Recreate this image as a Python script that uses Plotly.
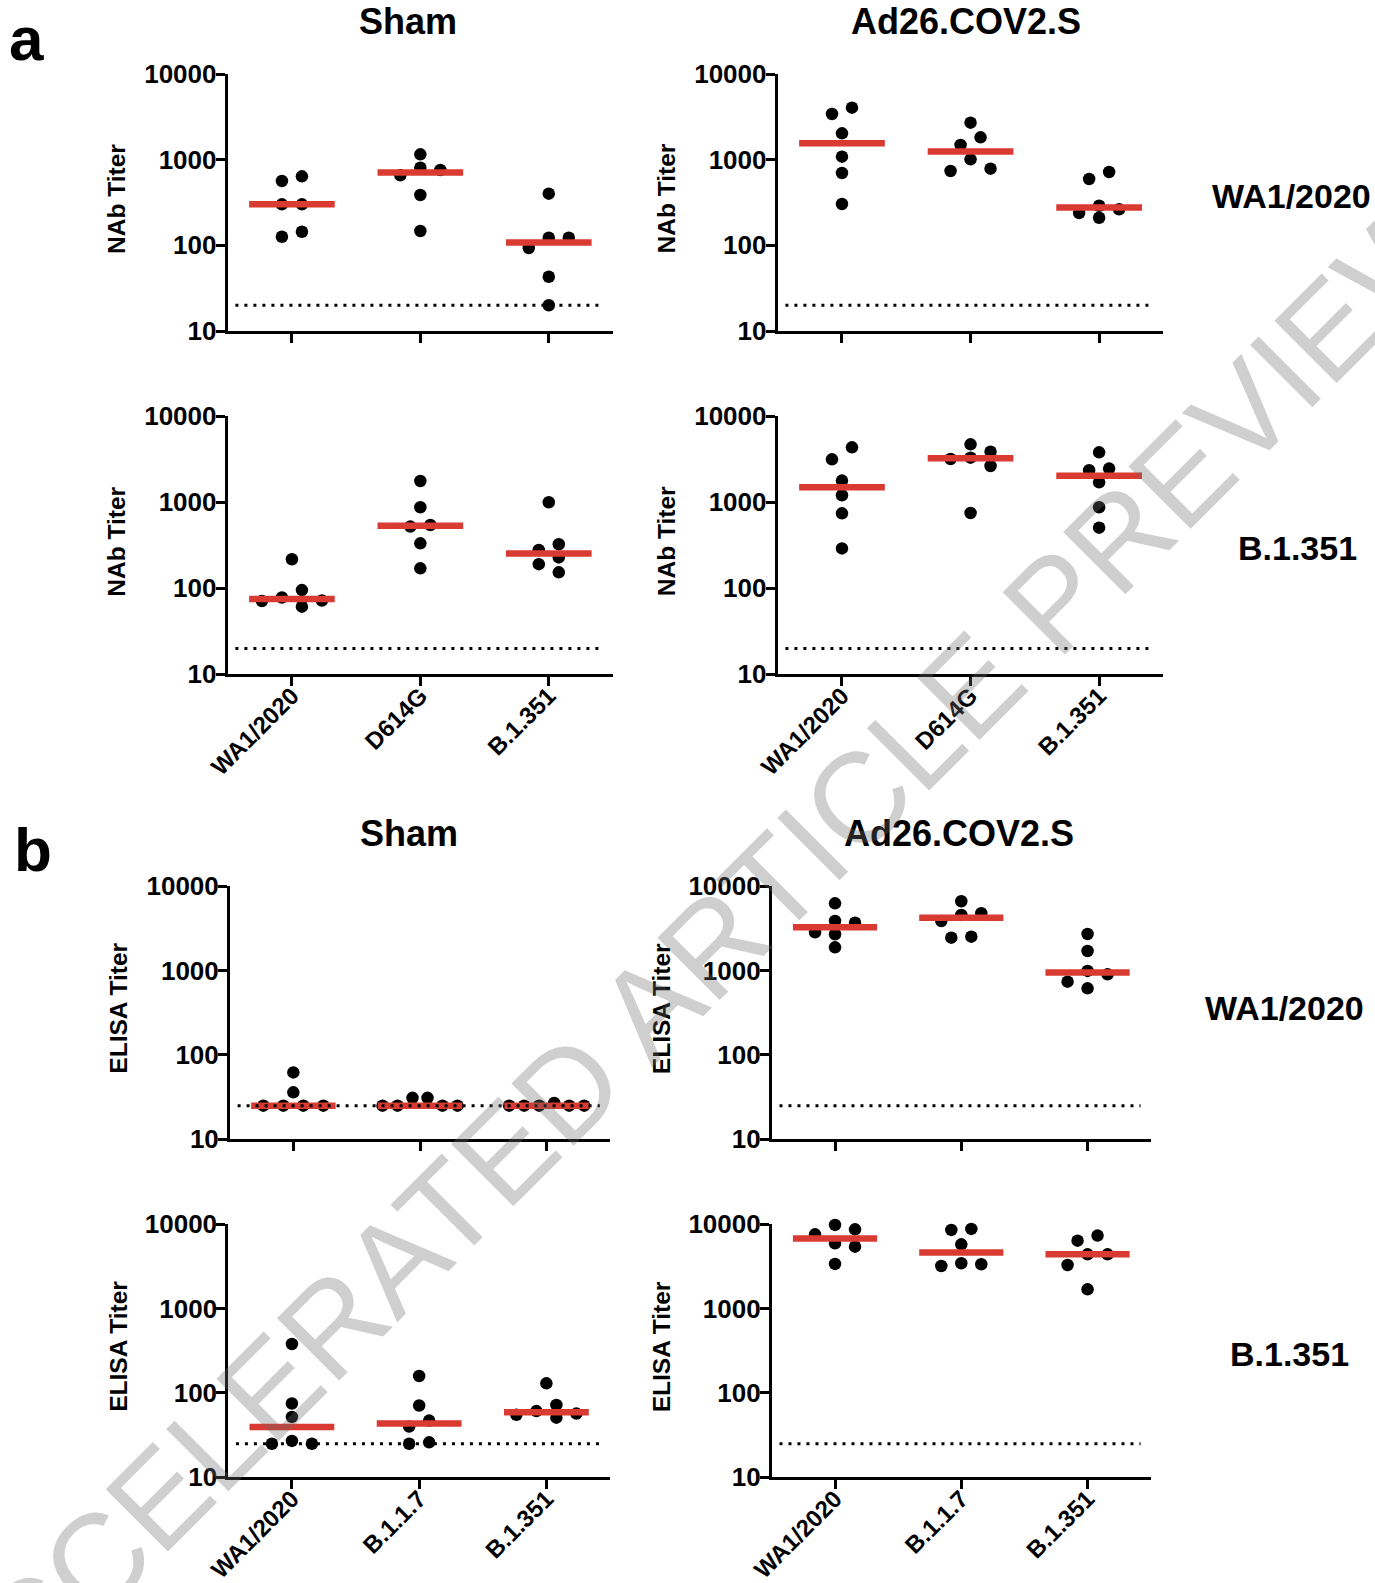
import numpy as np
import plotly.graph_objects as go

FIG_W, FIG_H = 1375, 1583

# ---------------- data ----------------
nab_strains = ["WA1/2020", "D614G", "B.1.351"]
elisa_strains = ["WA1/2020", "B.1.1.7", "B.1.351"]
y_tick_values = [10, 100, 1000, 10000]
y_tick_labels = ["10", "100", "1000", "10000"]

# a: pseudovirus NAb titers; each list of lists follows nab_strains
nab_sham_wa1 = [[639, 564, 301, 301, 144, 126],
                [1154, 807, 757, 656, 387, 147],
                [401, 123, 123, 93, 43, 20]]
nab_ad26_wa1 = [[4045, 3412, 2030, 1084, 698, 304],
                [2704, 1824, 1484, 1009, 785, 738],
                [718, 595, 290, 263, 238, 210]]
nab_sham_b1351 = [[217, 95, 78, 72, 71, 61],
                  [1760, 871, 542, 519, 332, 170],
                  [995, 324, 278, 228, 190, 153]]
nab_ad26_b1351 = [[4327, 3140, 1776, 1200, 741, 290],
                  [4692, 3856, 3283, 3170, 2628, 748],
                  [3786, 2448, 2341, 1698, 871, 505]]

# b: ELISA titers; each list of lists follows elisa_strains
elisa_sham_wa1 = [[62, 36, 25, 25, 25, 25],
                  [31, 31, 25, 25, 25, 25],
                  [27, 25, 25, 25, 25, 25]]
elisa_ad26_wa1 = [[6237, 3851, 3683, 2832, 2680, 1879],
                  [6590, 4753, 4542, 3851, 2512, 2446],
                  [2703, 1700, 986, 900, 736, 614]]
elisa_sham_b1351 = [[381, 75, 52, 27, 25, 25],
                    [159, 71, 47, 40, 26, 25],
                    [130, 72, 61, 57, 55, 51]]
elisa_ad26_b1351 = [[9827, 8724, 7609, 5953, 5433, 3387],
                    [8810, 8570, 5790, 3451, 3357, 3206],
                    [7341, 6400, 4406, 4406, 3294, 1694]]

nab_lod = 20
elisa_lod = 25

# ---------------- styling ----------------
FONT = "Liberation Sans, Arial, Helvetica, sans-serif"
RED = "#D93A32"
DOT_SIZE = 12.5


def swarm_offsets(values, decade_px, diam=12.0, step=20.0, max_span=75.0):
    """Prism-like dot-plot spreading (pixel offsets) computed from the values."""
    vals = np.asarray(values, dtype=float)
    ypx = np.log10(vals) * decade_px
    order = sorted(range(len(vals)), key=lambda k: -vals[k])
    bins, cur = [], [order[0]]
    for a, b in zip(order[:-1], order[1:]):
        if ypx[a] - ypx[b] < diam:
            cur.append(b)
        else:
            bins.append(cur)
            cur = [b]
    bins.append(cur)
    offs = np.zeros(len(vals))
    for group in bins:
        for m in range(1, len(group) + 1):
            s = min(step, max_span / (m - 1)) if m > 1 else 0.0
            cols = [(k - (m - 1) / 2) * s for k in range(m)]
            cols.sort(key=lambda c: (abs(c), -c))
            placed = []
            failed = False
            for k in group:
                for c in cols:
                    if all(np.hypot(c - pc, ypx[k] - py) >= diam for pc, py in placed):
                        placed.append((c, ypx[k]))
                        offs[k] = c
                        break
                else:
                    failed = True
                    break
            if not failed:
                break
    return offs


# panel boxes in pixels: (left, right, top, bottom)
panels = [
    dict(data=nab_sham_wa1, cats=nab_strains, lod=nab_lod, box=(227.7, 613, 74, 331),
         ytitle="NAb Titer", tx=116.5, labels=False),
    dict(data=nab_ad26_wa1, cats=nab_strains, lod=nab_lod, box=(777.7, 1163.4, 74, 331),
         ytitle="NAb Titer", tx=666, labels=False),
    dict(data=nab_sham_b1351, cats=nab_strains, lod=nab_lod, box=(227.7, 613, 416, 674.3),
         ytitle="NAb Titer", tx=116.5, labels=True),
    dict(data=nab_ad26_b1351, cats=nab_strains, lod=nab_lod, box=(777.7, 1163.4, 416, 674.3),
         ytitle="NAb Titer", tx=666, labels=True),
    dict(data=elisa_sham_wa1, cats=elisa_strains, lod=elisa_lod, box=(230, 610, 886, 1139.3),
         ytitle="ELISA Titer", tx=119, labels=False),
    dict(data=elisa_ad26_wa1, cats=elisa_strains, lod=elisa_lod, box=(771.9, 1150.7, 886, 1139.3),
         ytitle="ELISA Titer", tx=661.5, labels=False),
    dict(data=elisa_sham_b1351, cats=elisa_strains, lod=elisa_lod, box=(228.3, 610, 1224.3, 1477.3),
         ytitle="ELISA Titer", tx=119, labels=True),
    dict(data=elisa_ad26_b1351, cats=elisa_strains, lod=elisa_lod, box=(771.9, 1150.7, 1224.3, 1477.3),
         ytitle="ELISA Titer", tx=661.5, labels=True),
]

fig = go.Figure()
layout_axes = {}
annotations = []

for i, p in enumerate(panels, start=1):
    xa = "x" if i == 1 else f"x{i}"
    ya = "y" if i == 1 else f"y{i}"
    l, r, t, b = p["box"]
    unit_px = (r - l) / 3.0
    decade_px = (b - t) / 3.0

    # dots
    for ci, vals in enumerate(p["data"]):
        offs = swarm_offsets(vals, decade_px) / unit_px
        fig.add_trace(go.Scatter(
            x=ci + offs, y=vals, mode="markers",
            marker=dict(size=DOT_SIZE, color="black", line=dict(width=0)),
            xaxis=xa, yaxis=ya, cliponaxis=False, showlegend=False, hoverinfo="skip"))
    # median bars
    for ci, vals in enumerate(p["data"]):
        med = float(np.median(vals))
        fig.add_trace(go.Scatter(
            x=[ci - 1 / 3, ci + 1 / 3], y=[med, med], mode="lines",
            line=dict(color=RED, width=6.5),
            xaxis=xa, yaxis=ya, cliponaxis=False, showlegend=False, hoverinfo="skip"))
    # limit of detection
    fig.add_trace(go.Scatter(
        x=[-0.44, 2.42], y=[p["lod"], p["lod"]], mode="lines",
        line=dict(color="black", width=3, dash="3px,6px"),
        xaxis=xa, yaxis=ya, cliponaxis=False, showlegend=False, hoverinfo="skip"))

    ytickfont = dict(family=FONT, size=26, color="black", weight="bold")
    xtickfont = dict(family=FONT, size=24, color="black", weight="bold")
    layout_axes["xaxis" if i == 1 else f"xaxis{i}"] = dict(
        domain=[l / FIG_W, r / FIG_W], anchor=ya, range=[-0.5, 2.5],
        tickmode="array", tickvals=[0, 1, 2], ticktext=p["cats"],
        showticklabels=p["labels"], tickangle=-45, tickfont=xtickfont,
        ticklabelstandoff=-14,
        ticks="outside", ticklen=9, tickwidth=3, tickcolor="black",
        showline=True, linewidth=3, linecolor="black", automargin=False,
        showgrid=False, zeroline=False, fixedrange=True)
    layout_axes["yaxis" if i == 1 else f"yaxis{i}"] = dict(
        domain=[1 - b / FIG_H, 1 - t / FIG_H], anchor=xa, type="log", range=[1, 4],
        tickmode="array", tickvals=y_tick_values, ticktext=y_tick_labels,
        tickfont=ytickfont, ticklabelstandoff=-6,
        ticks="outside", ticklen=9, tickwidth=3, tickcolor="black",
        showline=True, linewidth=3, linecolor="black", automargin=False,
        showgrid=False, zeroline=False, fixedrange=True)

    annotations.append(dict(
        text=p["ytitle"], x=p["tx"] / FIG_W, y=1 - ((t + b) / 2 - 4) / FIG_H,
        xref="paper", yref="paper", xanchor="center", yanchor="middle",
        textangle=-90, showarrow=False,
        font=dict(family=FONT, size=24.5, color="black", weight="bold")))


def text_ann(text, x, y, size, weight="bold"):
    return dict(text=text, x=x / FIG_W, y=1 - y / FIG_H, xref="paper", yref="paper",
                xanchor="center", yanchor="middle", showarrow=False,
                font=dict(family=FONT, size=size, color="black", weight=weight))


annotations += [
    text_ann("a", 26, 38, 62),
    text_ann("b", 33, 849, 62),
    text_ann("Sham", 408, 21, 36),
    text_ann("Ad26.COV2.S", 966, 21, 36),
    text_ann("Sham", 409, 833, 36),
    text_ann("Ad26.COV2.S", 959, 833, 36),
    text_ann("WA1/2020", 1291, 196, 34),
    text_ann("B.1.351", 1297, 548, 34),
    text_ann("WA1/2020", 1284, 1008, 34),
    text_ann("B.1.351", 1289, 1354, 34),
]

# watermark
annotations.append(dict(
    text="ACCELERATED ARTICLE PREVIEW", x=690 / FIG_W, y=1 - 966 / FIG_H,
    xref="paper", yref="paper", xanchor="center", yanchor="middle",
    textangle=-45, showarrow=False,
    font=dict(family=FONT, size=128, color="rgba(110,110,110,0.33)")))

fig.update_layout(
    width=FIG_W, height=FIG_H,
    margin=dict(l=0, r=0, t=0, b=0, pad=0, autoexpand=False),
    paper_bgcolor="white", plot_bgcolor="white",
    font=dict(family=FONT, color="black"),
    showlegend=False, annotations=annotations, **layout_axes)

fig.write_html("out.html")
